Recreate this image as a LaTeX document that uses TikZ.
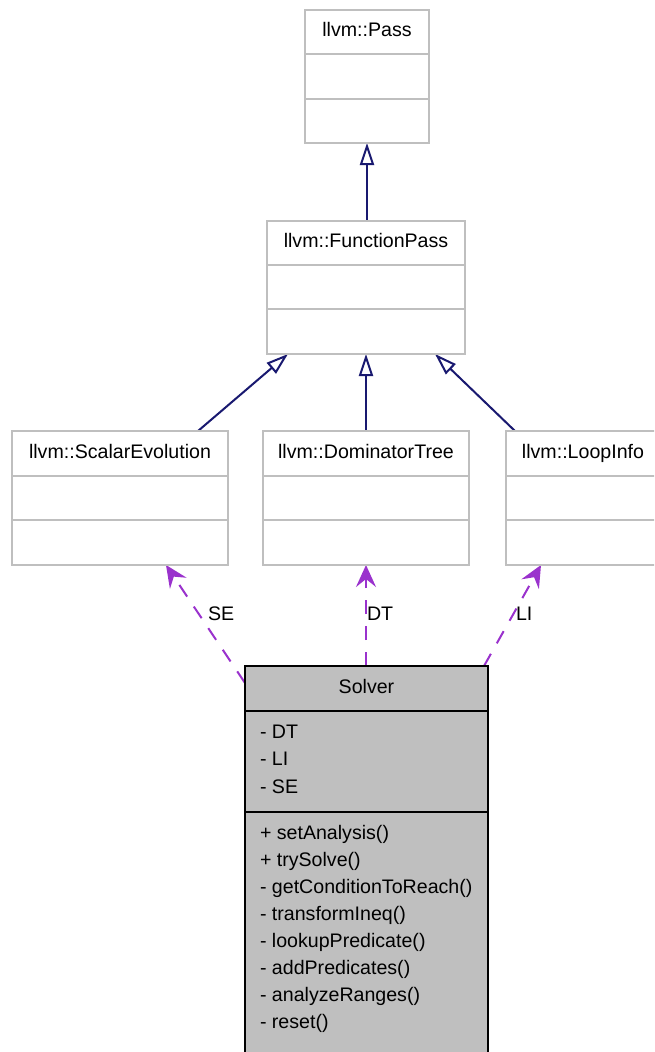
\documentclass[tikz,border=0pt]{standalone}
\usepackage{fontspec}
\setmainfont{Liberation Sans}
\usetikzlibrary{arrows.meta,backgrounds}

\definecolor{boxgray}{HTML}{BFBFBF}
\definecolor{inhnavy}{HTML}{191970}
\definecolor{usepurple}{HTML}{9A32CD}

% UML class box: name, x1, y1, x2, y2, first divider, second divider, title, box style
\newcommand\umlclass[9]{%
  \node[#9, minimum width={#4-#2}, minimum height={#5-#3}] (#1) at ({(#2+#4)/2},{(#3+#5)/2}) {};
  \draw[#9 rule] (#2,#6) -- (#4,#6);
  \draw[#9 rule] (#2,#7) -- (#4,#7);
  \node[anchor=base] (#1-title) at ({(#2+#4)/2},{(#3+#6)/2+4.5}) {#8};
}

\begin{document}
\begin{tikzpicture}[x=1pt,y=-1pt,
  every node/.style={font=\fontsize{19.6}{23}\selectfont, inner sep=0pt, outer sep=0pt},
  plainclass/.style={rectangle, draw=boxgray, fill=white, line width=2pt},
  plainclass rule/.style={draw=boxgray, line width=2pt},
  focusclass/.style={rectangle, draw=black, fill=boxgray, line width=2pt},
  focusclass rule/.style={draw=black, line width=2pt},
  member/.style={anchor=base west},
  inherit/.style={draw=inhnavy, line width=2pt,
    -{Triangle[open, length=22pt, width=14pt, line width=2pt]}},
  uses/.style={draw=usepurple, line width=2pt, dash pattern=on 14pt off 12pt,
    -{Stealth[length=22pt, width=20pt, inset=8pt]}},
  edgelabel/.style={anchor=base west},
]
\clip (0,0) rectangle (654,1052);
\useasboundingbox (0,0) rectangle (654,1052);

% class boxes
\umlclass{pass}{305}{10}{429}{143}{54}{99}{llvm::Pass}{plainclass}
\umlclass{fp}{267}{221}{465}{354}{265}{309}{llvm::FunctionPass}{plainclass}
\umlclass{se}{12}{431}{228}{565}{476}{520}{llvm::ScalarEvolution}{plainclass}
\umlclass{dt}{263}{431}{469}{565}{476}{520}{llvm::DominatorTree}{plainclass}
\umlclass{li}{506}{431}{660}{565}{476}{520}{llvm::LoopInfo}{plainclass}
\umlclass{solver}{245}{666}{488}{1062}{711}{812}{Solver}{focusclass}

% members of Solver
\node[member] (a1) at (260,738) {- DT};
\node[member] (a2) at (260,765.5) {- LI};
\node[member] (a3) at (260,793) {- SE};
\foreach \txt [count=\i from 0] in {+ setAnalysis(), + trySolve(), - getConditionToReach(),
    - transformIneq(), - lookupPredicate(), - addPredicates(), - analyzeRanges(), - reset()}
  \node[member] (m\i) at (260,{839+27*\i}) {\txt};

% page background and connectors, behind the boxes
\begin{scope}[on background layer]
  \fill[white] (0,0) rectangle (654,1052);
  % inheritance
  \draw[inherit] (pass.south |- fp.north) -- (pass.south);
  \draw[inherit] ([xshift=186pt]se.north west) -- ([xshift=21pt]fp.south west);
  \draw[inherit] (dt.north) -- (fp.south);
  \draw[inherit] ([xshift=9pt]li.north west) -- ([xshift=-30pt]fp.south east);
  % usage
  \draw[uses] ([yshift=-17pt]solver.north west) -- ([xshift=154pt]se.south west);
  \draw[uses] (solver.north -| dt.south) -- (dt.south);
  \draw[uses] ([xshift=-4pt]solver.north east) -- ([xshift=35pt]li.south west);
\end{scope}

% usage labels
\node[edgelabel] (lse) at (208,620) {SE};
\node[edgelabel] (ldt) at (367,620) {DT};
\node[edgelabel] (lli) at (516,620) {LI};
\end{tikzpicture}
\end{document}
